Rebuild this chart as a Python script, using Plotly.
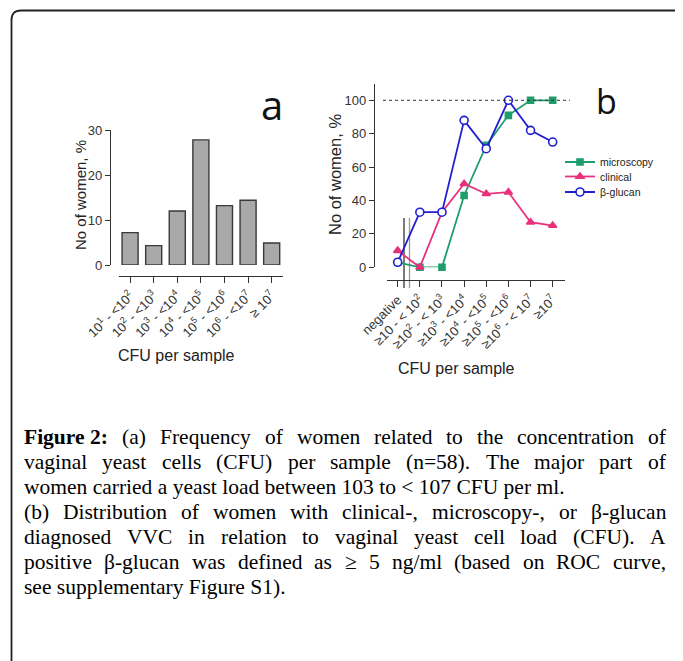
import plotly.graph_objects as go

# page body has an 8px margin; figure is sized so it fits the 683x661 window
OFF = 8
W, H = 683 - OFF, 661 - OFF

# ---------------- data ----------------
cfu_labels_a = [
    "10<sup>1</sup> - <10<sup>2</sup>",
    "10<sup>2</sup> - <10<sup>3</sup>",
    "10<sup>3</sup> - <10<sup>4</sup>",
    "10<sup>4</sup> - <10<sup>5</sup>",
    "10<sup>5</sup> - <10<sup>6</sup>",
    "10<sup>6</sup> - <10<sup>7</sup>",
    "≥ 10<sup>7</sup>",
]
women_pct_a = [7.2, 4.3, 12.0, 27.8, 13.2, 14.4, 4.9]
y_ticks_a = [0, 10, 20, 30]

cfu_labels_b = [
    "negative",
    "≥10 - < 10<sup>2</sup>",
    "≥10<sup>2</sup> - < 10<sup>3</sup>",
    "≥10<sup>3</sup> - <10<sup>4</sup>",
    "≥10<sup>4</sup> - <10<sup>5</sup>",
    "≥10<sup>5</sup> - <10<sup>6</sup>",
    "≥10<sup>6</sup> - < 10<sup>7</sup>",
    "≥10<sup>7</sup>",
]
microscopy = [3, 0, 0, 43, 73, 91, 100, 100]
clinical = [10, 0, 33, 50, 44, 45, 27, 25]
beta_glucan = [3, 33, 33, 88, 71, 100, 82, 75]
y_ticks_b = [0, 20, 40, 60, 80, 100]

caption_lines = [
    ("Figure 2: (a) Frequency of women related to the concentration of", True),
    ("vaginal yeast cells (CFU) per sample (n=58). The major part of", True),
    ("women carried a yeast load between 103 to < 107 CFU per ml.", False),
    ("(b) Distribution of women with clinical-, microscopy-, or β-glucan", True),
    ("diagnosed VVC in relation to vaginal yeast cell load (CFU). A", True),
    ("positive β-glucan was defined as ≥ 5 ng/ml (based on ROC curve,", True),
    ("see supplementary Figure S1).", False),
]

# ---------------- style ----------------
SANS = "Liberation Sans, Arial, sans-serif"
SERIF = "Liberation Serif, Times New Roman, serif"
AX = "#333333"
TXT = "#333333"
C_MIC = "#1f9d6d"
C_CLI = "#e8307c"
C_BGL = "#1f1fd0"


def fx(p):
    return (p - OFF) / W


def fy(p):
    return 1 - (p - OFF) / H


fig = go.Figure()

fig.add_trace(go.Bar(
    x=cfu_labels_a, y=women_pct_a, xaxis="x", yaxis="y",
    marker=dict(color="#a9a9a9", line=dict(color="#3a3a3a", width=1.4)),
    width=0.68, showlegend=False, hoverinfo="skip",
))

for name, vals, col, sym, msize, fill, leg in [
    ("microscopy", microscopy, C_MIC, "square", 6, C_MIC, "legend"),
    ("clinical", clinical, C_CLI, "triangle-up", 7, C_CLI, "legend2"),
    ("β-glucan", beta_glucan, C_BGL, "circle", 8, "white", "legend3"),
]:
    fig.add_trace(go.Scatter(
        x=cfu_labels_b, y=vals, xaxis="x2", yaxis="y2", name=name,
        mode="lines+markers", legend=leg,
        line=dict(color=col, width=1.8),
        marker=dict(symbol=sym, size=msize, color=fill,
                    line=dict(color=col, width=1.6)),
        cliponaxis=False,
    ))

common_x = dict(
    type="category", anchor="free", showline=True, linecolor=AX, linewidth=1.3,
    ticks="outside", ticklen=6, tickcolor=AX, tickwidth=1.3, tickangle=-45,
    tickfont=dict(family=SANS, size=13, color=TXT), showgrid=False,
    zeroline=False, automargin=False, fixedrange=True,
)
common_y = dict(
    anchor="free", showline=True, linecolor=AX, linewidth=1.3,
    ticks="outside", ticklen=5, tickcolor=AX, tickwidth=1.3,
    tickfont=dict(family=SANS, size=13, color=TXT), showgrid=False,
    zeroline=False, automargin=False, fixedrange=True,
)
leg_common = dict(xanchor="left", yanchor="middle",
                  font=dict(family=SANS, size=10.5, color="#222"),
                  bgcolor="rgba(0,0,0,0)", itemwidth=30)

fig.update_layout(
    width=W, height=H, template="none",
    margin=dict(l=0, r=0, t=0, b=0),
    paper_bgcolor="white", plot_bgcolor="white",
    xaxis=dict(common_x, domain=[fx(119), fx(283)], range=[-0.47, 6.48],
               position=fy(276)),
    yaxis=dict(common_y, domain=[fy(265), fy(130)], range=[0, 30],
               tickvals=y_ticks_a, position=fx(110)),
    xaxis2=dict(common_x, domain=[fx(387), fx(565)], range=[-0.483, 7.556],
                position=fy(280)),
    yaxis2=dict(common_y, domain=[fy(267.3), fy(83.6)], range=[0, 110],
                tickvals=y_ticks_b, position=fx(374)),
    legend=dict(leg_common, x=fx(560), y=fy(162)),
    legend2=dict(leg_common, x=fx(560), y=fy(176.5)),
    legend3=dict(leg_common, x=fx(560), y=fy(192)),
    bargap=0.3,
)

shapes = []
# frame with rounded top-left corner
shapes.append(dict(
    type="path", xref="paper", yref="paper",
    path=f"M {fx(11.5)},{fy(661)} L {fx(11.5)},{fy(20)} Q {fx(11.5)},{fy(10.5)} {fx(21)},{fy(10.5)} L {fx(681)},{fy(10.5)}",
    line=dict(color="#222", width=1.8),
))
# dotted 100% reference line
shapes.append(dict(type="line", xref="paper", yref="y2", x0=fx(383), x1=fx(570),
                   y0=100, y1=100, line=dict(color="#333", width=1, dash="dot")))
# axis break marks
shapes.append(dict(type="line", xref="paper", yref="paper", x0=fx(404), x1=fx(404),
                   y0=fy(218), y1=fy(288), line=dict(color="#333", width=1.3),
                   layer="below"))
shapes.append(dict(type="line", xref="paper", yref="paper", x0=fx(409.5), x1=fx(409.5),
                   y0=fy(218), y1=fy(288), line=dict(color="#999", width=1.3),
                   layer="below"))
fig.update_layout(shapes=shapes)

ann = []
ann.append(dict(text="a", x=fx(272), y=fy(104), xref="paper", yref="paper",
                showarrow=False, xanchor="center", yanchor="middle",
                font=dict(family="Open Sans, sans-serif", size=40, color="#111")))
ann.append(dict(text="b", x=fx(606), y=fy(101), xref="paper", yref="paper",
                showarrow=False, xanchor="center", yanchor="middle",
                font=dict(family="Open Sans, sans-serif", size=34, color="#111")))
ann.append(dict(text="No of women, %", x=fx(80), y=fy(195), xref="paper", yref="paper",
                showarrow=False, textangle=-90, xanchor="center", yanchor="middle",
                font=dict(family=SANS, size=15, color="#222")))
ann.append(dict(text="No of women, %", x=fx(335), y=fy(175), xref="paper", yref="paper",
                showarrow=False, textangle=-90, xanchor="center", yanchor="middle",
                font=dict(family=SANS, size=16.5, color="#222")))
ann.append(dict(text="CFU per sample", x=fx(176), y=fy(355), xref="paper", yref="paper",
                showarrow=False, xanchor="center", yanchor="middle",
                font=dict(family=SANS, size=16, color="#222")))
ann.append(dict(text="CFU per sample", x=fx(456), y=fy(368), xref="paper", yref="paper",
                showarrow=False, xanchor="center", yanchor="middle",
                font=dict(family=SANS, size=16, color="#222")))

# ---------- caption (justified via Times-compatible metrics) ----------
TIMES = {" ": 250, "(": 333, ")": 333, ",": 250, "-": 333, ".": 250, "/": 278,
         ":": 278, "<": 564, "=": 564, "≥": 549, "β": 500,
         "A": 722, "B": 667, "C": 667, "D": 722, "E": 611, "F": 556, "G": 722,
         "H": 722, "I": 333, "O": 722, "R": 667, "S": 556, "T": 611, "U": 722,
         "V": 722,
         "a": 444, "b": 500, "c": 444, "d": 500, "e": 444, "f": 333, "g": 500,
         "h": 500, "i": 278, "j": 278, "k": 500, "l": 278, "m": 778, "n": 500,
         "o": 500, "p": 500, "q": 500, "r": 333, "s": 389, "t": 278, "u": 500,
         "v": 500, "w": 722, "x": 500, "y": 500, "z": 444}
TIMES_B = {"F": 611, "i": 278, "g": 500, "u": 556, "r": 444, "e": 444, ":": 333}
CAP_SIZE = 21.5
X0, X1 = 22, 664
Y0, LEAD = 437, 25


def width(word, bold=False):
    tot = 0
    for ch in word:
        if ch.isdigit():
            tot += 500
        elif bold and ch in TIMES_B:
            tot += TIMES_B[ch]
        else:
            tot += TIMES.get(ch, 500)
    return tot / 1000 * CAP_SIZE


for i, (line, justify) in enumerate(caption_lines):
    ypos = Y0 + i * LEAD
    if not justify:
        ann.append(dict(text=line, x=fx(X0), y=fy(ypos), xref="paper", yref="paper",
                        showarrow=False, xanchor="left", yanchor="middle",
                        font=dict(family=SERIF, size=CAP_SIZE, color="#000")))
        continue
    words = line.split(" ")
    bolds = [False] * len(words)
    if i == 0:
        words = [words[0] + " " + words[1]] + words[2:]
        bolds = [True] + [False] * (len(words) - 1)
    ws = [width(w, b) for w, b in zip(words, bolds)]
    gap = (X1 - X0 - sum(ws)) / (len(words) - 1)
    xcur = X0
    for w, b, wd in zip(words, bolds, ws):
        ann.append(dict(text=f"<b>{w}</b>" if b else w, x=fx(xcur), y=fy(ypos),
                        xref="paper", yref="paper", showarrow=False,
                        xanchor="left", yanchor="middle",
                        font=dict(family=SERIF, size=CAP_SIZE, color="#000")))
        xcur += wd + gap

fig.update_layout(annotations=ann)
fig.write_html("out.html")
